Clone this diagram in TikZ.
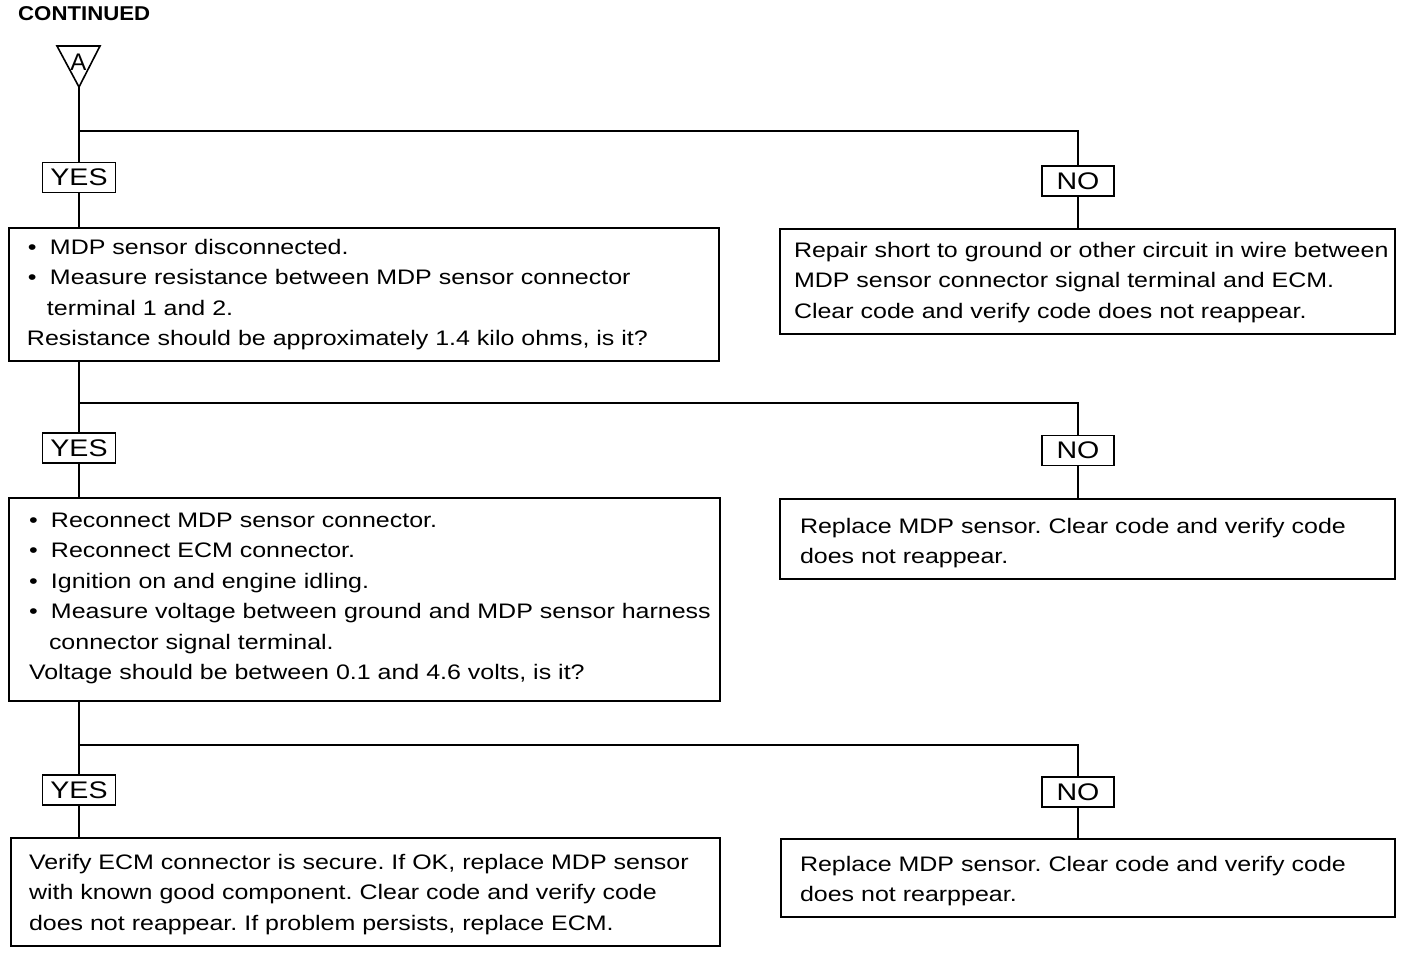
\documentclass[tikz,border=0pt]{standalone}
\usepackage{fontspec}
\setmainfont{Liberation Sans}[FakeStretch=1.19]
\newfontfamily\plainfont{Liberation Sans}
\frenchspacing
\begin{document}
\begin{tikzpicture}[x=1pt,y=-1pt,
  box/.style={draw,line width=2.2pt,inner sep=0pt,outer sep=0pt},
  lbl/.style={draw,line width=1.6pt,inner sep=0pt,outer sep=0pt,minimum width=73pt,minimum height=30pt,font=\fontsize{24}{24}\selectfont},
  txt/.style={anchor=north west,inner sep=0pt,outer sep=0pt,align=left,font=\fontsize{21}{30.4}\selectfont},
  wire/.style={line width=2pt}]
\useasboundingbox (0,0) rectangle (1408,954);
\newcommand{\bul}{\makebox[22pt][l]{\textbullet}}
% header
\node[anchor=west,inner sep=0pt,font=\plainfont\fontsize{20}{20}\selectfont\bfseries] (cont) at (18,14) {\scalebox{1.11}[1]{CONTINUED}};
\coordinate (apex) at (79,87);
\draw[line width=1.6pt,line join=miter] (57,46) -- (100,46) -- (apex) -- cycle;
\node[inner sep=0pt,font=\plainfont\fontsize{24}{24}\selectfont] (A) at (78.5,62) {A};
% labels
\node[lbl] (yes1) at (79,177.5) {YES};
\node[lbl,minimum width=72pt] (no1) at (1078,181) {NO};
\node[lbl] (yes2) at (79,448) {YES};
\node[lbl,minimum width=72pt] (no2) at (1078,450.5) {NO};
\node[lbl] (yes3) at (79,790) {YES};
\node[lbl,minimum width=72pt] (no3) at (1078,792) {NO};
% boxes
\node[box,minimum width=710pt,minimum height=133pt] (b1) at (364,294.5) {};
\node[box,minimum width=615pt,minimum height=105pt] (r1) at (1087.5,281.5) {};
\node[box,minimum width=711pt,minimum height=203pt] (b2) at (364.5,599.5) {};
\node[box,minimum width=615pt,minimum height=80pt] (r2) at (1087.5,539) {};
\node[box,minimum width=709pt,minimum height=108pt] (b3) at (365.5,892) {};
\node[box,minimum width=614pt,minimum height=78pt] (r3) at (1088,878) {};
% texts
\node[txt] (t1) at (27,239) {\hspace{1pt}\bul MDP sensor disconnected.\\
\hspace{1pt}\bul Measure resistance between MDP sensor connector\\
\hspace{20pt}terminal 1 and 2.\\
Resistance should be approximately 1.4 kilo ohms, is it?};
\node[txt] (tr1) at (794,242) {Repair short to ground or other circuit in wire between\\
MDP sensor connector signal terminal and ECM.\\
Clear code and verify code does not reappear.};
\node[txt] (t2) at (29,513) {\bul Reconnect MDP sensor connector.\\
\bul Reconnect ECM connector.\\
\bul Ignition on and engine idling.\\
\bul Measure voltage between ground and MDP sensor harness\\
\hspace{20pt}connector signal terminal.\\
Voltage should be between 0.1 and 4.6 volts, is it?};
\node[txt] (tr2) at (800,518) {Replace MDP sensor. Clear code and verify code\\
does not reappear.};
\node[txt] (t3) at (29,854) {Verify ECM connector is secure. If OK, replace MDP sensor\\
with known good component. Clear code and verify code\\
does not reappear. If problem persists, replace ECM.};
\node[txt] (tr3) at (800,856) {Replace MDP sensor. Clear code and verify code\\
does not rearppear.};
% connectors
\coordinate (j1) at (79,131);
\coordinate (j2) at (79,403);
\coordinate (j3) at (79,745);
\draw[wire] (apex) -- (yes1.north);
\draw[wire] (j1) -| (no1.north);
\draw[wire] (yes1.south) -- (yes1.south |- b1.north);
\draw[wire] (no1.south) -- (no1.south |- r1.north);
\draw[wire] (j2 |- b1.south) -- (yes2.north);
\draw[wire] (j2) -| (no2.north);
\draw[wire] (yes2.south) -- (yes2.south |- b2.north);
\draw[wire] (no2.south) -- (no2.south |- r2.north);
\draw[wire] (j3 |- b2.south) -- (yes3.north);
\draw[wire] (j3) -| (no3.north);
\draw[wire] (yes3.south) -- (yes3.south |- b3.north);
\draw[wire] (no3.south) -- (no3.south |- r3.north);
\end{tikzpicture}
\end{document}
